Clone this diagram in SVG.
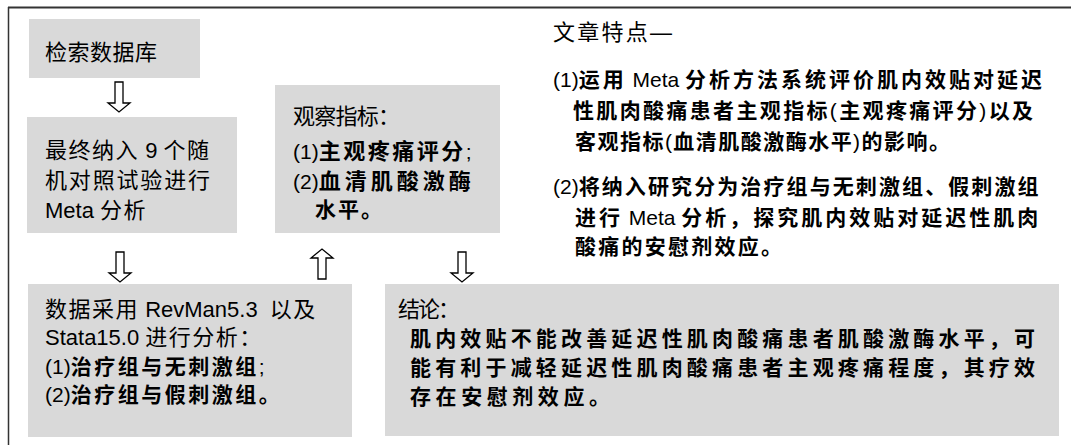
<svg xmlns="http://www.w3.org/2000/svg" width="1071" height="445" viewBox="0 0 1071 445">
<defs>
<style>
.box{fill:#d9d9d9;stroke:none}
.t{font-family:"Liberation Sans","Noto Sans CJK SC",sans-serif;font-size:22px;fill:#000}
.b{font-family:"Liberation Sans","Noto Sans CJK SC",sans-serif;font-size:21px;fill:#000}
.k{font-weight:bold}
.arr{fill:#fff;stroke:#000;stroke-width:1.3;stroke-linejoin:miter}
.frame{stroke:#333;fill:none}
</style>
<path id="down" d="M-4,0 H4 V21 H11 L0,30 L-11,21 H-4 Z"/>
</defs>
<rect width="1071" height="445" fill="#fff"/>
<g id="frame">
<line class="frame" x1="8" y1="7.5" x2="1071" y2="7.5" stroke-width="2"/>
<line class="frame" x1="8.5" y1="7" x2="8.5" y2="445" stroke-width="1.5"/>
</g>
<g id="n1">
<rect class="box" x="29" y="19" width="171" height="59"/>
<text class="t" x="45" y="60" textLength="112" lengthAdjust="spacing">检索数据库</text>
</g>
<g id="n2">
<rect class="box" x="27" y="117" width="210" height="116"/>
<text class="t" x="45" y="158"><tspan letter-spacing="1.5">最终纳入</tspan> 9 <tspan letter-spacing="1.5">个随</tspan></text>
<text class="t" x="45" y="188" textLength="165" lengthAdjust="spacing">机对照试验进行</text>
<text class="t" x="45" y="218">Meta <tspan letter-spacing="1.5">分析</tspan></text>
</g>
<g id="n3">
<rect class="box" x="275" y="85" width="225" height="148"/>
<text class="t" x="293" y="124" textLength="107" lengthAdjust="spacing">观察指标：</text>
<text class="b" x="293" y="159">(1)<tspan class="k" font-size="22" letter-spacing="2.5">主观疼痛评分</tspan>;</text>
<text class="b" x="293" y="189">(2)<tspan class="k" font-size="22" letter-spacing="4">血清肌酸激酶</tspan></text>
<text class="b k" x="315" y="217" font-size="22" letter-spacing="2">水平。</text>
</g>
<g id="n4">
<rect class="box" x="28" y="284" width="324" height="153"/>
<text class="t" x="45" y="317"><tspan letter-spacing="1.5">数据采用</tspan> RevMan5.3 <tspan dx="6" letter-spacing="1.5">以及</tspan></text>
<text class="t" x="45" y="345">Stata15.0 <tspan letter-spacing="1.5">进行分析：</tspan></text>
<text class="b" x="45" y="374">(1)<tspan class="k" letter-spacing="2.5">治疗组与无刺激组</tspan>;</text>
<text class="b" x="45" y="402">(2)<tspan class="k" letter-spacing="2.5">治疗组与假刺激组。</tspan></text>
</g>
<g id="n5">
<rect class="box" x="385" y="284" width="674" height="152"/>
<text class="t" x="398" y="317" textLength="62" lengthAdjust="spacing">结论：</text>
<text class="b k" x="410" y="346" font-size="22" textLength="625" lengthAdjust="spacing">肌内效贴不能改善延迟性肌肉酸痛患者肌酸激酶水平，可</text>
<text class="b k" x="410" y="375" font-size="22" textLength="625" lengthAdjust="spacing">能有利于减轻延迟性肌肉酸痛患者主观疼痛程度，其疗效</text>
<text class="b k" x="410" y="404" font-size="22" textLength="200" lengthAdjust="spacing">存在安慰剂效应。</text>
</g>
<g id="n6">
<text class="t" x="553" y="40" textLength="119" lengthAdjust="spacing">文章特点—</text>
<text class="b" x="553" y="87">(1)<tspan class="k" letter-spacing="3">运用</tspan> Meta <tspan class="k" letter-spacing="3">分析方法系统评价肌内效贴对延迟</tspan></text>
<text class="b k" x="573" y="118" textLength="460" lengthAdjust="spacing">性肌肉酸痛患者主观指标<tspan font-weight="normal">(</tspan>主观疼痛评分<tspan font-weight="normal">)</tspan>以及</text>
<text class="b k" x="575" y="149" textLength="375" lengthAdjust="spacing">客观指标<tspan font-weight="normal">(</tspan>血清肌酸激酶水平<tspan font-weight="normal">)</tspan>的影响。</text>
<text class="b" x="553" y="194">(2)<tspan class="k" letter-spacing="2.1">将纳入研究分为治疗组与无刺激组、假刺激组</tspan></text>
<text class="b" x="575" y="225"><tspan class="k" letter-spacing="3">进行</tspan> Meta <tspan class="k" letter-spacing="3">分析，探究肌内效贴对延迟性肌肉</tspan></text>
<text class="b k" x="575" y="254" textLength="207" lengthAdjust="spacing">酸痛的安慰剂效应。</text>
</g>
<g id="connectors">
<use href="#down" class="arr" transform="translate(119,82)"/>
<use href="#down" class="arr" transform="translate(120,252)"/>
<use href="#down" class="arr" transform="translate(322,279) scale(1,-1)"/>
<use href="#down" class="arr" transform="translate(462,252)"/>
</g>
</svg>
